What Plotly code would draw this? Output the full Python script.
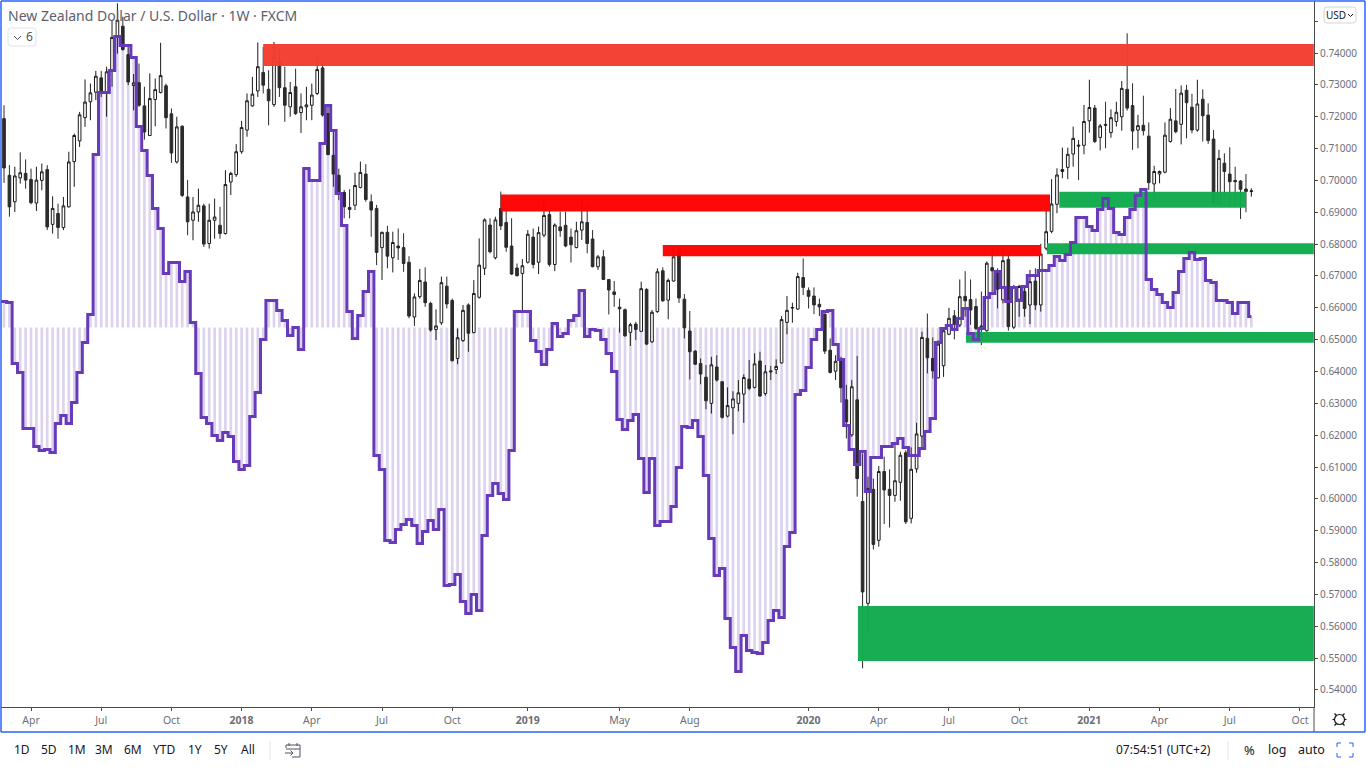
import numpy as np
import pandas as pd
import plotly.graph_objects as go

# Weekly NZD/USD candles, in pips (1 pip = 0.0001)
first_week = "2017-02-27"
opens_pips = [
7194,7016,6933,7008,7022,7003,6929,7000,7034,6862,
6896,6852,6917,7059,7124,7197,7247,7277,7322,7275,
7346,7449,7484,7395,7298,7307,7234,7141,7254,7276,
7297,7209,7058,7170,6948,6875,6901,6920,6802,6875,
6859,6833,6995,7018,7090,7158,7234,7281,7339,7286,
7238,7373,7291,7231,7294,7213,7231,7236,7273,7353,
7210,7079,7016,6962,6915,6922,6978,7020,6933,6912,
6789,6837,6757,6794,6789,6743,6571,6635,6681,6614,
6532,6553,6668,6623,6441,6497,6609,6522,6633,6724,
6860,6757,6912,6868,6794,6725,6708,6743,6822,6743,
6828,6893,6736,6854,6859,6822,6789,6844,6868,6816,
6729,6760,6689,6650,6602,6594,6523,6549,6526,6658,
6493,6588,6716,6624,6684,6781,6627,6527,6464,6425,
6382,6300,6414,6368,6260,6286,6300,6329,6376,6350,
6433,6331,6402,6406,6427,6554,6599,6596,6695,6654,
6637,6611,6580,6467,6401,6441,6311,6201,6311,5992,
5672,6030,5870,6086,6030,6011,6052,6145,5939,6094,
6197,6504,6441,6380,6418,6517,6575,6546,6636,6626,
6604,6543,6528,6726,6712,6625,6752,6539,6627,6651,
6609,6684,6609,6787,6840,6925,7028,7041,7083,7111,
7110,7187,7227,7135,7176,7150,7185,7200,7286,7235,
7158,7173,7139,6989,7020,7026,7122,7187,7176,7283,
7230,7158,7255,7205,7130,6928,7054,7020,7000,6998,6973,6965]
closes_pips = [
7039,6917,7014,7024,7001,6930,7001,7027,6854,6912,
6852,6920,7058,7141,7206,7246,7275,7327,7275,7341,
7449,7503,7411,7309,7306,7236,7152,7257,7285,7329,
7197,7086,7168,6953,6870,6901,6922,6800,6875,6885,
6833,6987,7022,7090,7166,7250,7271,7357,7299,7250,
7386,7291,7236,7276,7210,7231,7237,7268,7348,7205,
7081,7020,6962,6917,6909,6984,7025,6940,6907,6774,
6837,6762,6805,6788,6739,6574,6634,6686,6616,6530,
6543,6679,6612,6434,6506,6592,6520,6645,6734,6876,
6776,6876,6857,6790,6706,6701,6732,6831,6736,6836,
6890,6736,6860,6842,6794,6798,6842,6870,6802,6729,
6760,6689,6656,6642,6597,6512,6547,6532,6660,6486,
6586,6713,6622,6686,6760,6631,6537,6462,6423,6392,
6308,6421,6373,6256,6293,6314,6333,6381,6347,6424,
6323,6399,6399,6416,6563,6592,6601,6698,6664,6636,
6609,6603,6464,6397,6432,6349,6242,6352,6064,5708,
6033,5857,6086,6028,6011,6057,6137,5928,6093,6204,
6507,6443,6402,6486,6528,6567,6548,6635,6622,6593,
6535,6536,6740,6716,6658,6748,6541,6664,6667,6598,
6682,6609,6769,6839,6926,7017,7034,7082,7132,7108,
7185,7229,7122,7171,7173,7197,7214,7289,7227,7155,
7172,7156,6993,7028,7028,7142,7192,7153,7274,7244,
7158,7240,7203,7125,6928,7069,7028,6996,6996,6972,6965,6967]
highs_pips = [
7236,7048,7043,7088,7066,7037,7043,7053,7048,6950,
6927,6948,7090,7147,7215,7317,7304,7344,7344,7357,
7503,7556,7514,7425,7334,7367,7294,7336,7320,7432,
7304,7226,7200,7173,7001,6948,6974,6927,6927,6943,
6917,7032,7027,7114,7187,7273,7325,7433,7419,7346,
7435,7409,7357,7309,7351,7273,7294,7304,7393,7372,
7231,7152,7037,6970,6972,7024,7059,7051,6956,6923,
6839,6857,6839,6849,6834,6762,6645,6722,6727,6619,
6595,6698,6698,6629,6535,6609,6614,6687,6818,6881,
6881,6886,6965,6912,6881,6739,6753,6844,6849,6855,
6940,6907,6865,6902,6902,6849,6870,6940,6925,6844,
6766,6781,6689,6684,6629,6598,6553,6556,6682,6661,
6593,6724,6727,6692,6790,6794,6643,6590,6467,6441,
6420,6446,6451,6368,6350,6338,6373,6391,6436,6457,
6462,6420,6418,6438,6574,6637,6616,6710,6755,6664,
6664,6629,6582,6504,6451,6446,6358,6373,6449,6143,
6070,6064,6103,6133,6093,6174,6148,6153,6162,6239,
6525,6582,6507,6498,6535,6600,6593,6689,6715,6689,
6629,6651,6745,6790,6724,6797,6776,6672,6672,6664,
6719,6724,6801,6912,7004,7038,7103,7103,7169,7127,
7237,7316,7237,7177,7247,7223,7247,7312,7462,7305,
7206,7266,7182,7046,7031,7182,7227,7287,7298,7300,
7272,7316,7286,7242,7158,7096,7085,7104,7043,7001,7020,6975]
lows_pips = [
6992,6886,6901,6990,6974,6925,6904,6969,6844,6833,
6817,6844,6915,6980,7105,7168,7189,7252,7262,7200,
7294,7398,7407,7299,7220,7231,7128,7139,7170,7273,
7163,7055,7053,6948,6828,6812,6870,6791,6786,6817,
6817,6830,6954,7011,7084,7137,7231,7262,7273,7173,
7231,7262,7184,7200,7205,7149,7189,7189,7268,7200,
7079,6980,6938,6881,6881,6907,6975,6933,6823,6734,
6687,6724,6711,6750,6713,6567,6543,6629,6603,6525,
6499,6546,6598,6431,6423,6493,6462,6520,6629,6703,
6771,6752,6844,6776,6703,6698,6593,6739,6724,6706,
6821,6729,6715,6823,6790,6742,6787,6813,6771,6727,
6719,6687,6579,6603,6522,6509,6480,6499,6525,6483,
6490,6584,6619,6564,6682,6615,6504,6375,6420,6360,
6281,6268,6368,6252,6256,6203,6275,6239,6341,6347,
6320,6324,6373,6392,6425,6517,6553,6593,6640,6598,
6580,6574,6455,6394,6373,6302,6190,6195,6007,5468,
5583,5841,5850,5921,5910,5991,5994,5921,5923,6082,
6158,6394,6378,6378,6383,6514,6501,6540,6572,6546,
6530,6483,6525,6646,6598,6614,6528,6533,6572,6572,
6549,6593,6588,6780,6834,6897,7007,7004,7043,7001,
7082,7150,7117,7094,7101,7134,7169,7156,7219,7096,
7101,7141,6970,6944,6991,7022,7119,7148,7113,7132,
7148,7153,7122,7115,6921,6926,6947,6921,6918,6879,6900,6949]

# Oscillator, in its own units around zero.
# It starts one week before the first candle, whose step runs in from the left edge.
oscillator_first_week = "2017-02-20"
oscillator = [
26,
26,25,-36,-45,-101,-101,-119,-123,-122,-125,
-96,-88,-96,-75,-45,-15,13,173,235,235,
257,291,282,282,270,201,177,152,119,99,
54,65,65,46,56,5,-46,-90,-96,-108,
-113,-105,-109,-134,-142,-138,-89,-65,-12,27,
27,17,7,-8,0,-22,159,147,147,184,
222,197,134,102,16,-11,12,36,56,-128,
-142,-213,-215,-202,-197,-192,-198,-216,-204,-193,
-202,-182,-258,-257,-247,-274,-286,-267,-283,-208,
-168,-156,-166,-172,-123,16,16,16,-13,-24,
-37,-22,4,-9,-6,7,12,37,-9,-2,
-3,-12,-26,-44,-92,-102,-93,-87,-131,-165,
-131,-198,-194,-194,-179,-140,-99,-100,-93,-109,
-148,-211,-248,-241,-291,-320,-344,-308,-323,-325,
-326,-315,-293,-283,-290,-219,-205,-67,-63,-40,
-12,-2,16,17,-17,-32,-98,-122,-137,-124,
-164,-130,-130,-119,-119,-116,-111,-120,-128,-128,
-121,-104,-91,-15,-1,2,-2,9,19,-6,
-12,-1,30,34,56,40,26,40,27,41,
52,52,57,57,62,71,67,73,85,110,
110,101,97,118,129,119,95,93,110,118,
132,138,48,38,33,25,20,35,56,69,
75,68,69,47,45,27,27,25,14,25,25,11]

# Supply and demand zones
zone_start  = ["2018-01-29","2018-12-03","2019-07-01","2020-11-26","2020-11-10","2020-07-28","2020-03-10"]
zone_end    = ["2021-10-22","2020-11-14","2020-11-02","2021-07-26","2021-10-22","2021-10-22","2021-10-22"]
zone_top    = [0.7428,0.6956,0.6797,0.6964,0.6803,0.6524,0.5664]
zone_bottom = [0.7359,0.6902,0.6762,0.6914,0.6768,0.6490,0.5491]
zone_colour = ["#f33d2f","#ff0000","#ff0000","#0fab4d","#0fab4d","#0fab4d","#0fab4d"]

price_ticks = [0.54,0.55,0.56,0.57,0.58,0.59,0.60,0.61,0.62,0.63,0.64,
               0.65,0.66,0.67,0.68,0.69,0.70,0.71,0.72,0.73,0.74,0.75]
# the 0.75 label sits behind the currency button in the reference, so only its tick mark shows
price_tick_labels = ["0.54000","0.55000","0.56000","0.57000","0.58000","0.59000","0.60000","0.61000",
                     "0.62000","0.63000","0.64000","0.65000","0.66000","0.67000","0.68000","0.69000",
                     "0.70000","0.71000","0.72000","0.73000","0.74000",""]
time_tick_dates = ["2017-04-03","2017-07-03","2017-10-02","2018-01-01","2018-04-02","2018-07-02",
                   "2018-10-01","2019-01-07","2019-05-06","2019-08-05","2020-01-06","2020-04-06",
                   "2020-07-06","2020-10-05","2021-01-04","2021-04-05","2021-07-05","2021-10-04"]
time_tick_labels = ["Apr","Jul","Oct","<b>2018</b>","Apr","Jul","Oct","<b>2019</b>","May","Aug",
                    "<b>2020</b>","Apr","Jul","Oct","<b>2021</b>","Apr","Jul","Oct"]
title_text = "New Zealand Dollar / U.S. Dollar · 1W · FXCM"
range_labels = ["1D","5D","1M","3M","6M","YTD","1Y","5Y","All"]
range_centres = [22,49,77,104,133,164,195,221,248]
clock_text = "07:54:51 (UTC+2)"

W, H = 1366, 768
L, R, T, B = 1, 1314, 1, 707
FONT = "Noto Sans"
GREY = "#6b6e78"
def px(x): return (x - L) / (R - L)
def py(y): return 1 - (y - T) / (B - T)

weeks = pd.date_range(first_week, periods=len(opens_pips), freq="7D")
osc_weeks = pd.date_range(oscillator_first_week, periods=len(oscillator), freq="7D")
o = np.array(opens_pips) / 1e4
c = np.array(closes_pips) / 1e4
hi = np.array(highs_pips) / 1e4
lo = np.array(lows_pips) / 1e4

fig = go.Figure()
fig.add_trace(go.Bar(x=osc_weeks, y=oscillator, yaxis="y", width=7*86400000*0.5,
                     marker=dict(color="#ddd3ef", line=dict(width=0)), showlegend=False))
fig.add_trace(go.Candlestick(x=weeks, open=o, high=hi, low=lo, close=c, yaxis="y2", whiskerwidth=0,
    increasing=dict(line=dict(color="#1b1b1b", width=1), fillcolor="#ffffff"),
    decreasing=dict(line=dict(color="#2a2a2a", width=1), fillcolor="#2b2b2b"), showlegend=False))
for s, e, t, b, col in zip(zone_start, zone_end, zone_top, zone_bottom, zone_colour):
    fig.add_trace(go.Scatter(x=[s, e, e, s, s], y=[b, b, t, t, b], yaxis="y2", mode="lines",
                             fill="toself", fillcolor=col, opacity=0.97,
                             line=dict(color=col, width=0), showlegend=False))
fig.add_trace(go.Scatter(x=osc_weeks, y=oscillator, yaxis="y3", mode="lines",
                         line=dict(color="#673ab7", width=3, shape="hvh"), showlegend=False))

shapes = []
def line(x0, y0, x1, y1, color, width=1):
    shapes.append(dict(type="line", xref="paper", yref="paper", x0=px(x0), y0=py(y0), x1=px(x1), y1=py(y1),
                       line=dict(color=color, width=width), layer="above"))
def path(points, color, width=1):
    d = "M" + " L".join(f"{px(a)},{py(b)}" for a, b in points)
    shapes.append(dict(type="path", xref="paper", yref="paper", path=d, line=dict(color=color, width=width), layer="above"))
def round_box(x0, y0, x1, y1, color, r=3, fill="rgba(0,0,0,0)"):
    d = (f"M{px(x0+r)},{py(y0)} L{px(x1-r)},{py(y0)} Q{px(x1)},{py(y0)} {px(x1)},{py(y0+r)} "
         f"L{px(x1)},{py(y1-r)} Q{px(x1)},{py(y1)} {px(x1-r)},{py(y1)} L{px(x0+r)},{py(y1)} "
         f"Q{px(x0)},{py(y1)} {px(x0)},{py(y1-r)} L{px(x0)},{py(y0+r)} Q{px(x0)},{py(y0)} {px(x0+r)},{py(y0)} Z")
    shapes.append(dict(type="path", xref="paper", yref="paper", path=d, fillcolor=fill,
                       line=dict(color=color, width=1), layer="above"))

# frame, price-axis line running down through the time strip
AX = "#4a4a4a"
BLUE = "#2962ff"
line(R, B, R, 732, AX)
line(1, 1, 1365, 1, BLUE, 1.5); line(1, 732, 1365, 732, BLUE, 1.5)
line(1, 1, 1, 732, BLUE, 1.5); line(1365, 1, 1365, 732, BLUE, 1.5)
# legend toggle and currency buttons
round_box(8, 28, 36, 46, "#e0e3eb")
path([(14, 36), (17.5, 39.5), (21, 36)], "#50535e")
round_box(1324, 7, 1356, 23, "#d1d4dc", fill="#ffffff")
path([(1348, 14), (1350.5, 16.5), (1353, 14)], "#131722")
# toolbar separators
line(270, 741, 270, 760, "#e0e3eb")
line(1228, 741, 1228, 760, "#e0e3eb")
# date-range icon
path([(286, 748), (286, 745), (300, 745), (300, 757), (292, 757)], "#50535e")
path([(286, 749), (300, 749)], "#50535e")
path([(289, 743), (289, 746)], "#50535e"); path([(297, 743), (297, 746)], "#50535e")
path([(285, 753), (293, 753)], "#50535e"); path([(290.5, 750.5), (293, 753), (290.5, 755.5)], "#50535e")
# fullscreen icon
FS = "#2962ff"
for a, b, c1, d1, e1, f1 in [(1337, 747, 1337, 743, 1341, 743), (1349, 743, 1353, 743, 1353, 747),
                             (1353, 753, 1353, 757, 1349, 757), (1341, 757, 1337, 757, 1337, 753)]:
    path([(a, b), (c1, d1), (e1, f1)], FS)
# settings cog
GX, GY = 1339.5, 719.5
shapes.append(dict(type="circle", xref="paper", yref="paper", x0=px(GX-5), x1=px(GX+5), y0=py(GY+5), y1=py(GY-5),
                   line=dict(color="#131722", width=1.2), layer="above"))
for a, b, c1, d1 in [(-5, -6, -3, -4), (5, -6, 3, -4), (-5, 6, -3, 4), (5, 6, 3, 4), (-7, 0, -5, 0), (7, 0, 5, 0)]:
    line(GX+a, GY+b, GX+c1, GY+d1, "#131722", 1.2)

ann = []
def text(x, y, s, size=12, color="#131722", anchor="center"):
    ann.append(dict(xref="paper", yref="paper", x=px(x), y=py(y), text=s, showarrow=False, xanchor=anchor,
                    yanchor="middle", align="left", font=dict(family=FONT, size=size, color=color)))
text(5.5, 15.5, title_text, 14, "#5d606b", "left")
text(29, 36.5, "6", 12, "#50535e")
text(1336, 15, "USD", 10, "#131722")
for lab, cx in zip(range_labels, range_centres):
    text(cx, 750, lab, 12)
text(1213, 750, clock_text, 12, anchor="right")
text(1249, 750, "%", 13)
text(1277, 750, "log", 12.5)
text(1311, 750, "auto", 12.5)

fig.update_layout(
    width=W, height=H, margin=dict(l=L, r=W-R, t=T, b=H-B, pad=0, autoexpand=False),
    paper_bgcolor="#ffffff", plot_bgcolor="#ffffff", showlegend=False, hovermode=False,
    barmode="overlay", boxgap=0.3, shapes=shapes, annotations=ann,
    font=dict(family=FONT, size=10, color=GREY),
    xaxis=dict(type="date", range=["2017-02-23 02:00", "2021-10-22 05:00"], rangeslider=dict(visible=False),
               tickmode="array", tickvals=time_tick_dates, ticktext=time_tick_labels, ticks="outside", ticklen=3,
               tickcolor=AX, showgrid=False, zeroline=False, showline=True, linecolor=AX, linewidth=1,
               tickfont=dict(family=FONT, size=10.5, color=GREY), tickangle=0),
    yaxis=dict(range=[-379.5, 326.5], visible=False, fixedrange=True, showgrid=False, zeroline=False),
    yaxis2=dict(range=[0.53466, 0.75633], overlaying="y", side="right", anchor="x", tickmode="array",
                tickvals=price_ticks, ticktext=price_tick_labels, ticks="outside", ticklen=3, tickcolor=AX,
                showgrid=False, zeroline=False, showline=True, linecolor=AX, linewidth=1,
                tickfont=dict(family=FONT, size=10, color=GREY)),
    yaxis3=dict(range=[-379.5, 326.5], overlaying="y", visible=False, fixedrange=True, showgrid=False, zeroline=False),
)
fig.write_html("out.html", config=dict(displayModeBar=False, staticPlot=True),
               post_script="document.body.style.margin='0';document.body.style.overflow='hidden';")
